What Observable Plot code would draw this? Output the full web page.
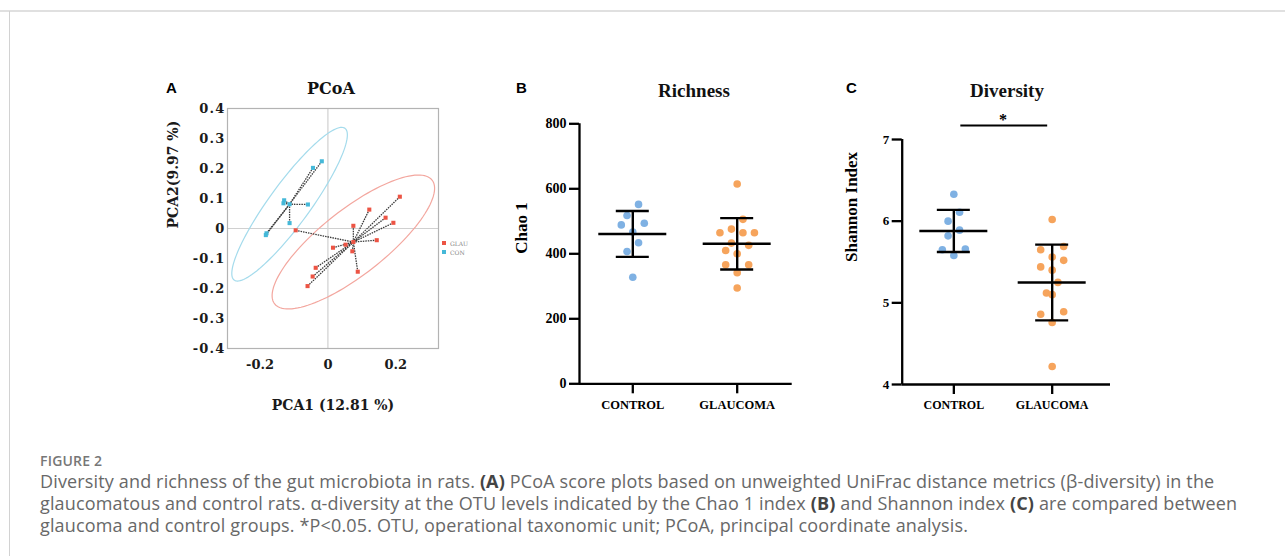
<!DOCTYPE html>
<html>
<head>
<meta charset="utf-8">
<script src="https://cdn.jsdelivr.net/npm/d3@7"></script>
<script src="https://cdn.jsdelivr.net/npm/@observablehq/plot@0.6"></script>
<style>
  html, body { margin: 0; padding: 0; background: #fff; }
  body { position: relative; width: 1285px; height: 556px; overflow: hidden; font-family: "Open Sans", sans-serif; }
  .abs { position: absolute; }
  .letter { font: bold 15px "Liberation Sans", Arial, sans-serif; color: #000; line-height: 15px; }
  .ttl { width: 200px; text-align: center; line-height: 1; color: #111; white-space: nowrap; }
  #pA svg text { font-family: "DejaVu Serif", serif; font-weight: bold; }
  #pA g[aria-label="y-axis tick label"] text { letter-spacing: 1.2px; }
  #pB svg text, #pC svg text { font-family: "Liberation Serif", "Times New Roman", serif; font-weight: bold; }
  .cap-h { left: 40px; top: 455px; font: 600 14px/12px "Open Sans", sans-serif; color: #777; letter-spacing: 0.2px; }
  .cap { left: 40px; top: 470px; font: 400 18px/22px "Open Sans", sans-serif; color: #686868; white-space: nowrap; letter-spacing: 0.15px; }
  .cap b { color: #444; font-weight: 700; }
  .legend { left: 442px; top: 239px; font: 6px/9px "DejaVu Serif", serif; color: #888; }
  .legend span.sq { display: inline-block; width: 4px; height: 4px; margin-right: 4px; vertical-align: 1px; }
</style>
</head>
<body>
<div class="abs" style="left:0;top:10px;width:1285px;height:2px;background:#e0e0e0"></div>
<div class="abs" style="left:9px;top:11px;width:1px;height:545px;background:#d2d2d2"></div>

<div class="abs letter" style="left:166px;top:80px">A</div>
<div class="abs ttl" style="left:231px;top:79px;font:bold 16px 'DejaVu Serif',serif">PCoA</div>
<div class="abs letter" style="left:516px;top:80px">B</div>
<div class="abs ttl" style="left:594px;top:80px;font:bold 19px 'Liberation Serif',serif">Richness</div>
<div class="abs letter" style="left:846px;top:80px">C</div>
<div class="abs ttl" style="left:907px;top:80px;font:bold 19px 'Liberation Serif',serif">Diversity</div>

<div id="pA" class="abs" style="left:150px;top:97px;width:310px;height:330px"></div>
<div id="pB" class="abs" style="left:500px;top:97px;width:320px;height:330px"></div>
<div id="pC" class="abs" style="left:830px;top:97px;width:300px;height:330px"></div>
<div id="legA" class="abs legend"></div>

<div class="abs cap-h">FIGURE 2</div>
<div class="abs cap">Diversity and richness of the gut microbiota in rats. <b>(A)</b> PCoA score plots based on unweighted UniFrac distance metrics (β-diversity) in the<br>glaucomatous and control rats. α-diversity at the OTU levels indicated by the Chao 1 index <b>(B)</b> and Shannon index <b>(C)</b> are compared between<br>glaucoma and control groups. *P&lt;0.05. OTU, operational taxonomic unit; PCoA, principal coordinate analysis.</div>

<script>
// ---------------- DATA ----------------
// Panel A: PCoA scores
const pcoaGroups = ["GLAU", "CON"];
const glauX = [0.212, 0.122, 0.170, 0.193, 0.075, 0.144, -0.095, 0.015, 0.052, 0.072, 0.088, -0.036, -0.045, -0.060];
const glauY = [0.106, 0.063, 0.036, 0.019, 0.009, -0.039, -0.006, -0.064, -0.054, -0.076, -0.144, -0.131, -0.160, -0.192];
const conX = [-0.018, -0.044, -0.129, -0.131, -0.059, -0.113, -0.181, -0.183];
const conY = [0.224, 0.202, 0.094, 0.084, 0.080, 0.018, -0.016, -0.022];
const centroidX = [0.075, -0.113];
const centroidY = [-0.045, 0.081];
// confidence ellipses: semi-axis vectors (data units)
const ellipseMajor = [[0.2325, 0.2057], [0.1635, 0.2528]];
const ellipseMinor = [[0.0575, -0.0867], [0.0478, -0.0412]];
const pcoaXTicks = [-0.2, 0, 0.2];
const pcoaYTicks = [-0.4, -0.3, -0.2, -0.1, 0, 0.1, 0.2, 0.3, 0.4];
const pcoaXLabel = "PCA1 (12.81 %)";
const pcoaYLabel = "PCA2(9.97 %)";

// Panels B & C
const groups = ["CONTROL", "GLAUCOMA"];
const chaoControl = [552, 518, 494, 489, 467, 434, 407, 328];
const chaoGlaucoma = [615, 506, 476, 465, 465, 465, 433, 426, 410, 400, 366, 366, 342, 295];
const shannonControl = [6.33, 6.11, 6.00, 5.89, 5.82, 5.66, 5.65, 5.58];
const shannonGlaucoma = [6.02, 5.69, 5.65, 5.56, 5.52, 5.44, 5.40, 5.25, 5.12, 5.10, 4.89, 4.86, 4.76, 4.22];
const chaoTicks = [0, 200, 400, 600, 800];
const shannonTicks = [4, 5, 6, 7];
const chaoLabel = "Chao 1";
const shannonLabel = "Shannon Index";
const significance = [{a: "CONTROL", b: "GLAUCOMA", label: "*"}];

// ---------------- STYLE ----------------
const pcoaColors = {GLAU: "#ec5444", CON: "#45b8d8"};
const ellipseColors = {GLAU: "#f3a79f", CON: "#a4dbec"};
const groupColors = {CONTROL: "#7fb1e3", GLAUCOMA: "#f6a45c"};

// ---------------- PANEL A ----------------
const pcoaPts = [
  ...glauX.map((x, i) => ({group: "GLAU", x, y: glauY[i], cx: centroidX[0], cy: centroidY[0]})),
  ...conX.map((x, i) => ({group: "CON", x, y: conY[i], cx: centroidX[1], cy: centroidY[1]}))
];
const centroids = pcoaGroups.map((g, k) => ({group: g, x: centroidX[k], y: centroidY[k]}));
const ellipsePts = pcoaGroups.flatMap((g, k) => d3.range(0, 360, 3).map(deg => {
  const t = deg * Math.PI / 180;
  return {
    group: g,
    x: centroidX[k] + ellipseMajor[k][0] * Math.cos(t) + ellipseMinor[k][0] * Math.sin(t),
    y: centroidY[k] + ellipseMajor[k][1] * Math.cos(t) + ellipseMinor[k][1] * Math.sin(t)
  };
}));
const fmtA = d => d === 0 ? "0" : d.toFixed(1);

const plotA = Plot.plot({
  width: 310, height: 330,
  marginLeft: 77, marginRight: 22, marginTop: 11, marginBottom: 79,
  style: {background: "transparent", fontSize: "13px", color: "#1a1a1a", overflow: "visible"},
  x: {domain: [-0.296, 0.326]},
  y: {domain: [-0.4, 0.4]},
  marks: [
    Plot.ruleX([0], {stroke: "#d0d0d0", strokeWidth: 1.2}),
    Plot.ruleY([0], {stroke: "#d0d0d0", strokeWidth: 1.2}),
    Plot.frame({stroke: "#b3b3b3", strokeWidth: 1.2}),
    Plot.line(ellipsePts, {x: "x", y: "y", z: "group", stroke: d => ellipseColors[d.group], strokeWidth: 1.2, curve: "linear-closed"}),
    Plot.link(pcoaPts, {x1: "x", y1: "y", x2: "cx", y2: "cy", stroke: "#3a3a3a", strokeWidth: 1.3, strokeDasharray: "1.5,1"}),
    Plot.dot(pcoaPts, {x: "x", y: "y", symbol: "square", r: 2.3, fill: d => pcoaColors[d.group]}),
    Plot.dot(centroids, {x: "x", y: "y", symbol: "square", r: 2.3, fill: d => pcoaColors[d.group]}),
    Plot.axisX(pcoaXTicks, {tickSize: 0, tickPadding: 11, tickFormat: fmtA, label: null, fontSize: 13}),
    Plot.axisY(pcoaYTicks, {tickSize: 0, tickPadding: 2, tickFormat: fmtA, label: null, fontSize: 13}),
    Plot.text([pcoaXLabel], {frameAnchor: "bottom", dy: 57, lineAnchor: "middle", fontSize: 14}),
    Plot.text([pcoaYLabel], {frameAnchor: "left", dx: -54, rotate: -90, lineAnchor: "middle", fontSize: 14})
  ]
});
document.getElementById("pA").append(plotA);

// legend for panel A
document.getElementById("legA").innerHTML = pcoaGroups.map(g =>
  `<div><span class="sq" style="background:${pcoaColors[g]}"></span>${g}</div>`).join("");

// ---------------- PANELS B & C ----------------
// scatter-dot layout: values closer than one row height share a row and are spread symmetrically
function rowOffsets(values, kx, ky, rowH, step) {
  const order = d3.range(values.length).sort((a, b) => values[b] - values[a]);
  const rows = [];
  for (const i of order) {
    const row = rows[rows.length - 1];
    if (row && (values[row[0]] - values[i]) * ky < rowH) row.push(i);
    else rows.push([i]);
  }
  const out = new Array(values.length);
  for (const row of rows) {
    const n = row.length;
    const slots = d3.range(n).map(j => (j - (n - 1) / 2) * step)
      .sort((a, b) => Math.abs(a) - Math.abs(b) || a - b);
    const lowFirst = row.slice().sort((a, b) => values[a] - values[b]);
    lowFirst.forEach((i, j) => { out[i] = slots[j] / kx; });
  }
  return out;
}

function dotPlot({series, yDomain, yTicks, xDomain, width, height, ml, mr, mt, mb, tickFont, catFont, yLabel, sig}) {
  const r = 3.8;
  const kx = (width - ml - mr) / (xDomain[1] - xDomain[0]);
  const ky = (height - mt - mb) / (yDomain[1] - yDomain[0]);
  const pts = series.flatMap((vals, k) => {
    const off = rowOffsets(vals, kx, ky, 11.2, 11.5);
    return vals.map((v, i) => ({group: groups[k], gx: k + 1 + off[i], v}));
  });
  const stats = series.map((vals, k) => {
    const m = d3.mean(vals), s = d3.deviation(vals);
    return {group: groups[k], gx: k + 1, mean: m, lo: m - s, hi: m + s};
  });
  const meanHalf = 34 / kx, capHalf = 16.5 / kx;
  const marks = [
    Plot.ruleY([yDomain[0]], {stroke: "#000", strokeWidth: 2.3}),
    Plot.ruleX([xDomain[0]], {stroke: "#000", strokeWidth: 2.3}),
    Plot.axisY(yTicks, {tickSize: 10, tickPadding: 3, strokeWidth: 2.3, label: null, fontSize: tickFont, tickFormat: d => String(d)}),
    Plot.axisX([1, 2], {tickSize: 10, tickPadding: 6, strokeWidth: 2.3, label: null, fontSize: catFont, tickFormat: i => groups[i - 1]}),
    Plot.dot(pts, {x: "gx", y: "v", r, fill: d => groupColors[d.group]}),
    Plot.ruleY(stats, {y: "mean", x1: d => d.gx - meanHalf, x2: d => d.gx + meanHalf, stroke: "#000", strokeWidth: 2.4}),
    Plot.ruleX(stats, {x: "gx", y1: "lo", y2: "hi", stroke: "#000", strokeWidth: 2.4}),
    Plot.ruleY(stats, {y: "lo", x1: d => d.gx - capHalf, x2: d => d.gx + capHalf, stroke: "#000", strokeWidth: 2.4}),
    Plot.ruleY(stats, {y: "hi", x1: d => d.gx - capHalf, x2: d => d.gx + capHalf, stroke: "#000", strokeWidth: 2.4}),
    Plot.text([yLabel], {frameAnchor: "left", dx: -(ml - 21), rotate: -90, lineAnchor: "middle", fontSize: 17})
  ];
  if (sig) {
    const sigData = sig.map(s => ({a: groups.indexOf(s.a) + 1, b: groups.indexOf(s.b) + 1, label: s.label}));
    marks.push(
      Plot.ruleY(sigData, {y: () => yDomain[1], x1: d => d.a + 7 / kx, x2: d => d.b - 4.5 / kx, dy: -14, stroke: "#000", strokeWidth: 2}),
      Plot.text(sigData, {x: d => (d.a + d.b) / 2, y: () => yDomain[1], text: "label", dy: -20, fontSize: 16})
    );
  }
  return Plot.plot({
    width, height, marginLeft: ml, marginRight: mr, marginTop: mt, marginBottom: mb,
    style: {background: "transparent", color: "#000", overflow: "visible"},
    x: {domain: xDomain},
    y: {domain: yDomain},
    marks
  });
}

const plotB = dotPlot({
  series: [chaoControl, chaoGlaucoma], yDomain: [0, 800], yTicks: chaoTicks,
  xDomain: [0.4895, 2.527], width: 320, height: 330, ml: 79, mr: 28.3, mt: 26.3, mb: 43.7,
  tickFont: 14, catFont: 12.5, yLabel: chaoLabel
});
document.getElementById("pB").append(plotB);

const plotC = dotPlot({
  series: [shannonControl, shannonGlaucoma], yDomain: [4, 7], yTicks: shannonTicks,
  xDomain: [0.475, 2.593], width: 300, height: 330, ml: 71.7, mr: 20, mt: 42, mb: 43,
  tickFont: 13, catFont: 12, yLabel: shannonLabel, sig: significance
});
document.getElementById("pC").append(plotC);
</script>
</body>
</html>
